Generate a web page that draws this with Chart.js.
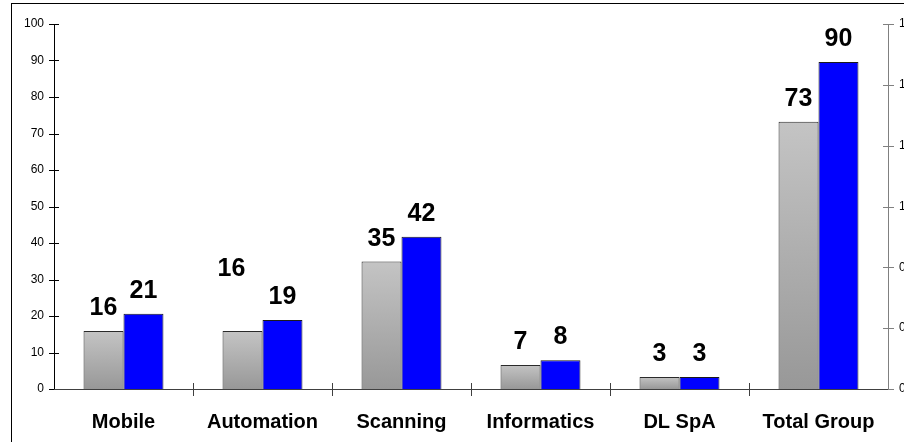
<!DOCTYPE html>
<html>
<head>
<meta charset="utf-8">
<script src="https://cdn.jsdelivr.net/npm/chart.js@4.4.1/dist/chart.umd.min.js"></script>
<style>
  html, body { margin: 0; padding: 0; background: #fff; }
  #wrap { width: 904px; height: 442px; position: relative; }
</style>
</head>
<body>
<div id="wrap"><canvas id="chart" width="904" height="442"></canvas></div>
<script>
// data
const categories = ['Mobile', 'Automation', 'Scanning', 'Informatics', 'DL SpA', 'Total Group'];
const grayValues = [15.9, 15.9, 34.9, 6.6, 3.3, 73.2];
const blueValues = [20.6, 18.9, 41.7, 7.9, 3.3, 89.6];
const leftTickValues = [0, 10, 20, 30, 40, 50, 60, 70, 80, 90, 100];
const rightTickLabels = ['0', '0', '0', '1', '1', '1', '1'];

const FONT = "'Liberation Sans', Arial, sans-serif";

// one label in the source sits off its bar (Automation, grey)
const labelNudge = { '0-1': [-11, -39] };

function grayFill(ctx) {
  const chart = ctx.chart;
  if (!chart.chartArea || ctx.type !== 'data') return '#b4b4b4';
  const y = chart.scales.y;
  const top = y.getPixelForValue(ctx.raw);
  const bottom = y.getPixelForValue(0);
  const g = chart.ctx.createLinearGradient(0, top, 0, bottom);
  g.addColorStop(0, '#c4c4c4');
  g.addColorStop(1, '#989898');
  return g;
}

const framePlugin = {
  id: 'frame',
  beforeDraw(chart) {
    const { ctx, width, height } = chart;
    ctx.save();
    ctx.fillStyle = '#fff';
    ctx.fillRect(0, 0, width, height);
    ctx.fillStyle = '#000';
    ctx.fillRect(11, 3, width - 11, 1);
    ctx.fillRect(11, 3, 1, height - 3);
    ctx.restore();
  }
};

const axesPlugin = {
  id: 'axesLines',
  afterDatasetsDraw(chart) {
    const { ctx, chartArea, scales } = chart;
    const { left, right, top, bottom } = chartArea;
    ctx.save();
    ctx.lineWidth = 1;
    // left axis
    ctx.strokeStyle = '#000';
    ctx.beginPath();
    ctx.moveTo(left + 0.5, top);
    ctx.lineTo(left + 0.5, bottom);
    leftTickValues.forEach(v => {
      const py = Math.round(scales.y.getPixelForValue(v)) + 0.5;
      ctx.moveTo(left - 5, py);
      ctx.lineTo(left + 5, py);
    });
    ctx.stroke();
    // right axis
    ctx.strokeStyle = '#808080';
    ctx.beginPath();
    ctx.moveTo(right + 0.5, top);
    ctx.lineTo(right + 0.5, bottom);
    rightTickLabels.forEach((_, i) => {
      const py = Math.round(scales.y2.getPixelForValue(i)) + 0.5;
      ctx.moveTo(right - 5, py);
      ctx.lineTo(right + 6, py);
    });
    ctx.stroke();
    // category axis
    const xs = scales.x;
    const step = xs.getPixelForValue(1) - xs.getPixelForValue(0);
    ctx.strokeStyle = '#404040';
    ctx.beginPath();
    const by = Math.round(bottom) + 0.5;
    ctx.moveTo(left, by);
    ctx.lineTo(right, by);
    categories.forEach((_, i) => {
      if (i === 0) return;
      const px = Math.round(xs.getPixelForValue(i) - step / 2) + 0.5;
      ctx.moveTo(px, bottom - 6);
      ctx.lineTo(px, bottom + 7);
    });
    ctx.stroke();
    ctx.restore();
  }
};

const valueLabels = {
  id: 'valueLabels',
  afterDatasetsDraw(chart) {
    const { ctx } = chart;
    ctx.save();
    ctx.font = `bold 25px ${FONT}`;
    ctx.fillStyle = '#000';
    ctx.textAlign = 'center';
    ctx.textBaseline = 'middle';
    chart.data.datasets.forEach((ds, di) => {
      chart.getDatasetMeta(di).data.forEach((bar, i) => {
        const [dx, dy] = labelNudge[`${di}-${i}`] || [0, 0];
        ctx.fillText(String(Math.round(ds.data[i])), bar.x + dx, bar.y - 23 + dy);
      });
    });
    ctx.restore();
  }
};

new Chart(document.getElementById('chart').getContext('2d'), {
  type: 'bar',
  plugins: [framePlugin, axesPlugin, valueLabels],
  data: {
    labels: categories,
    datasets: [
      {
        label: 'Grey',
        data: grayValues,
        backgroundColor: grayFill,
        borderColor: '#2a2a2a',
        borderWidth: 1,
        yAxisID: 'y',
      },
      {
        label: 'Blue',
        data: blueValues,
        backgroundColor: '#0000ff',
        borderColor: '#1a1a1a',
        borderWidth: 1,
        yAxisID: 'y',
      },
    ],
  },
  options: {
    responsive: false,
    animation: false,
    devicePixelRatio: 1,
    categoryPercentage: 0.575,
    barPercentage: 1.0,
    layout: { padding: { top: 24, left: 0, right: 0, bottom: 0 } },
    plugins: {
      legend: { display: false },
      tooltip: { enabled: false },
    },
    scales: {
      x: {
        grid: { display: false, drawTicks: false },
        border: { display: false },
        ticks: {
          color: '#000',
          font: { family: FONT, size: 20, weight: 'bold' },
          padding: 21,
          maxRotation: 0,
          autoSkip: false,
        },
        afterFit(scale) { scale.height = 53; },
      },
      y: {
        position: 'left',
        min: 0,
        max: 100,
        grid: { display: false, drawTicks: false },
        border: { display: false },
        ticks: {
          stepSize: 10,
          color: '#000',
          font: { family: FONT, size: 12 },
          padding: 10,
        },
        afterFit(scale) { scale.width = 54; },
      },
      y2: {
        position: 'right',
        min: 0,
        max: 6,
        grid: { display: false, drawTicks: false },
        border: { display: false },
        ticks: {
          stepSize: 1,
          color: '#000',
          font: { family: FONT, size: 12 },
          padding: 11,
          callback: (v, i) => rightTickLabels[i],
        },
        afterFit(scale) { scale.width = 16; },
      },
    },
  },
});
</script>
</body>
</html>
